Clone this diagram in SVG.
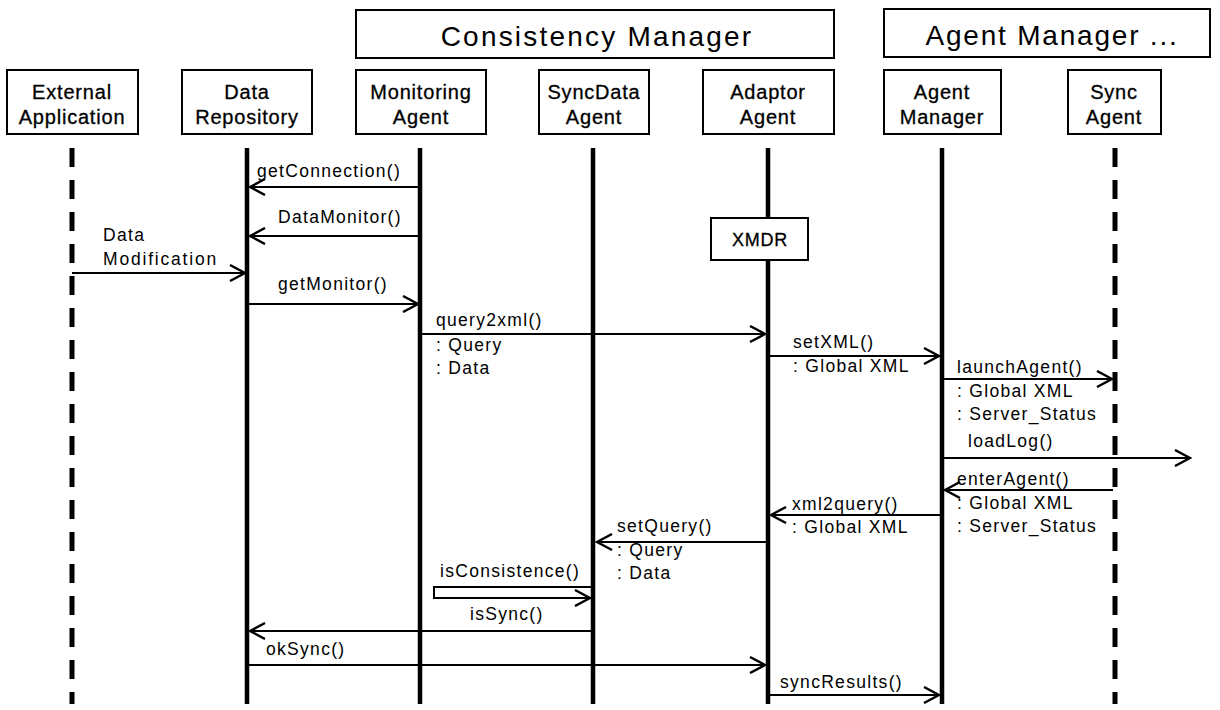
<svg xmlns="http://www.w3.org/2000/svg" width="1220" height="710" viewBox="0 0 1220 710">
<defs>
<style>
.box{fill:#fff;stroke:#000;stroke-width:2}
.title{font-family:"Liberation Sans","Noto Sans CJK KR",sans-serif;font-size:28px;letter-spacing:2.2px;text-anchor:middle;fill:#000}
.node{font-family:"Liberation Sans","Noto Sans CJK KR",sans-serif;font-size:20px;letter-spacing:0.8px;text-anchor:middle;fill:#000;stroke:#000;stroke-width:0.3}
.lbl{font-family:"Liberation Sans","Noto Sans CJK KR",sans-serif;font-size:17.5px;letter-spacing:1.3px;fill:#000}
.life{stroke:#000;stroke-width:4.5;fill:none}
.dash{stroke:#000;stroke-width:5;fill:none;stroke-dasharray:19 13}
.msg{stroke:#000;stroke-width:2;fill:none;marker-end:url(#arr)}
</style>
<marker id="arr" viewBox="0 0 18 18" refX="16" refY="9" markerWidth="18" markerHeight="18" markerUnits="userSpaceOnUse" orient="auto">
<path d="M1,1 L16,9 L1,17" fill="none" stroke="#000" stroke-width="2.4"/>
</marker>
</defs>
<rect width="1220" height="710" fill="#fff"/>

<g id="group-consistency">
<rect class="box" x="356" y="10" width="478" height="48"/>
<text class="title" x="597" y="46">Consistency Manager</text>
</g>
<g id="group-agentmanager">
<rect class="box" x="884" y="9" width="326" height="48"/>
<text class="title" x="1052" y="45" style="letter-spacing:1.8px">Agent Manager ...</text>
</g>

<g id="lifelines">
<line class="dash" x1="72" y1="148" x2="72" y2="704"/>
<line class="life" x1="247" y1="148" x2="247" y2="704"/>
<line class="life" x1="420" y1="148" x2="420" y2="704"/>
<line class="life" x1="593" y1="148" x2="593" y2="704"/>
<line class="life" x1="768" y1="148" x2="768" y2="704"/>
<line class="life" x1="942" y1="148" x2="942" y2="704"/>
<line class="dash" x1="1115" y1="148" x2="1115" y2="704"/>
</g>

<g id="node-external">
<rect class="box" x="7" y="70" width="131" height="64"/>
<text class="node" x="72" y="99">External</text>
<text class="node" x="72" y="124">Application</text>
</g>
<g id="node-datarepository">
<rect class="box" x="182" y="70" width="130" height="64"/>
<text class="node" x="247" y="99">Data</text>
<text class="node" x="247" y="124">Repository</text>
</g>
<g id="node-monitoring">
<rect class="box" x="356" y="70" width="130" height="64"/>
<text class="node" x="421" y="99">Monitoring</text>
<text class="node" x="421" y="124">Agent</text>
</g>
<g id="node-syncdata">
<rect class="box" x="539" y="70" width="110" height="64"/>
<text class="node" x="594" y="99">SyncData</text>
<text class="node" x="594" y="124">Agent</text>
</g>
<g id="node-adaptor">
<rect class="box" x="703" y="70" width="131" height="64"/>
<text class="node" x="768" y="99">Adaptor</text>
<text class="node" x="768" y="124">Agent</text>
</g>
<g id="node-agentmanager">
<rect class="box" x="884" y="70" width="117" height="64"/>
<text class="node" x="942" y="99">Agent</text>
<text class="node" x="942" y="124">Manager</text>
</g>
<g id="node-syncagent">
<rect class="box" x="1068" y="70" width="93" height="64"/>
<text class="node" x="1114" y="99">Sync</text>
<text class="node" x="1114" y="124">Agent</text>
</g>
<g id="node-xmdr">
<rect class="box" x="711" y="218" width="97" height="42"/>
<text class="node" x="760" y="246" style="font-size:18px">XMDR</text>
</g>

<g id="connectors">
<line class="msg" x1="420" y1="187" x2="250" y2="187"/>
<line class="msg" x1="420" y1="236" x2="250" y2="236"/>
<line class="msg" x1="72" y1="273" x2="245" y2="273"/>
<line class="msg" x1="249" y1="304" x2="418" y2="304"/>
<line class="msg" x1="422" y1="334" x2="765" y2="334"/>
<line class="msg" x1="770" y1="356" x2="939" y2="356"/>
<line class="msg" x1="944" y1="379" x2="1112" y2="379"/>
<line class="msg" x1="944" y1="458" x2="1190" y2="458"/>
<line class="msg" x1="1113" y1="490" x2="945" y2="490"/>
<line class="msg" x1="940" y1="515" x2="771" y2="515"/>
<line class="msg" x1="766" y1="542" x2="597" y2="542"/>
<path class="msg" d="M591,587 H434 V598 H590"/>
<line class="msg" x1="591" y1="631" x2="250" y2="631"/>
<line class="msg" x1="249" y1="665" x2="765" y2="665"/>
<line class="msg" x1="770" y1="695" x2="939" y2="695"/>
</g>

<g id="labels">
<text class="lbl" x="257" y="177">getConnection()</text>
<text class="lbl" x="278" y="223">DataMonitor()</text>
<text class="lbl" x="103" y="241">Data</text>
<text class="lbl" x="103" y="265" style="letter-spacing:1.8px">Modification</text>
<text class="lbl" x="278" y="290">getMonitor()</text>
<text class="lbl" x="436" y="326">query2xml()</text>
<text class="lbl" x="436" y="351">: Query</text>
<text class="lbl" x="436" y="374">: Data</text>
<text class="lbl" x="793" y="348">setXML()</text>
<text class="lbl" x="793" y="372">: Global XML</text>
<text class="lbl" x="957" y="373">launchAgent()</text>
<text class="lbl" x="957" y="397">: Global XML</text>
<text class="lbl" x="957" y="420">: Server_Status</text>
<text class="lbl" x="968" y="447">loadLog()</text>
<text class="lbl" x="957" y="485">enterAgent()</text>
<text class="lbl" x="957" y="509">: Global XML</text>
<text class="lbl" x="957" y="532">: Server_Status</text>
<text class="lbl" x="792" y="510">xml2query()</text>
<text class="lbl" x="792" y="533">: Global XML</text>
<text class="lbl" x="617" y="532">setQuery()</text>
<text class="lbl" x="617" y="556">: Query</text>
<text class="lbl" x="617" y="579">: Data</text>
<text class="lbl" x="440" y="577">isConsistence()</text>
<text class="lbl" x="470" y="620">isSync()</text>
<text class="lbl" x="266" y="655">okSync()</text>
<text class="lbl" x="780" y="688">syncResults()</text>
</g>
</svg>
